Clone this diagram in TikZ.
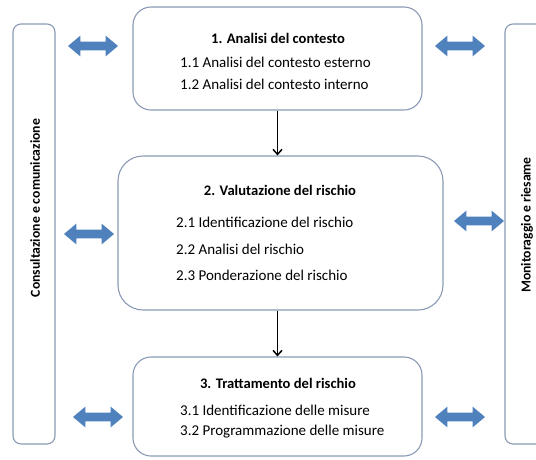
\documentclass[tikz,border=0pt]{standalone}
\usepackage{fontspec}
\setmainfont{Carlito}
\usetikzlibrary{shapes.arrows,arrows.meta}
\definecolor{bord}{HTML}{8A9AB5}
\definecolor{arr}{HTML}{4F81BD}
\begin{document}
\begin{tikzpicture}[x=1pt,y=-1pt,
  box/.style={draw=bord, line width=1.1pt, fill=white, inner sep=0pt},
  ttl/.style={font=\fontsize{14.6}{17}\selectfont\bfseries, inner sep=0pt},
  itm/.style={font=\fontsize{15}{17}\selectfont, inner sep=0pt, anchor=west},
  side/.style={font=\fontsize{13.7}{16}\selectfont\bfseries, inner sep=0pt, rotate=90},
  darr/.style={double arrow, fill=arr, draw=none,
    minimum height=50pt, double arrow head extend=6pt, double arrow tip angle=80, inner sep=0pt},
  flow/.style={-{Straight Barb[length=5pt,width=9pt,line width=1.5pt]}, line width=1.6pt, black}]
\clip (0,0) rectangle (536,459);
\fill[white] (0,0) rectangle (536,459);
% side boxes
\node[box, minimum width=42pt, minimum height=420pt, rounded corners=8pt] (lb) at (34,234) {};
\node[box, minimum width=55pt, minimum height=420pt, rounded corners=8pt] (rb) at (532.5,234) {};
\node[side] (lt) at (35,208) {Consultazione e comunicazione};
\node[side] (rt) at (527,225) {Monitoraggio e riesame};
% main boxes
\node[box, minimum width=289pt, minimum height=103pt, rounded corners=18pt] (b1) at (277.5,58.5) {};
\node[box, minimum width=325pt, minimum height=154pt, rounded corners=25pt] (b2) at (280.5,233) {};
\node[box, minimum width=289pt, minimum height=99pt, rounded corners=18pt] (b3) at (277.5,406.5) {};
% texts
\node[ttl] (t1) at (278,38) {1. Analisi del contesto};
\node[itm] (i11) at (180,62) {1.1 Analisi del contesto esterno};
\node[itm] (i12) at (180,84) {1.2 Analisi del contesto interno};
\node[ttl] (t2) at (280,190) {2. Valutazione del rischio};
\node[itm] (i21) at (176,222) {2.1 Identificazione del rischio};
\node[itm] (i22) at (176,249) {2.2 Analisi del rischio};
\node[itm] (i23) at (176,275) {2.3 Ponderazione del rischio};
\node[ttl] (t3) at (278,383) {3. Trattamento del rischio};
\node[itm] (i31) at (180,410) {3.1 Identificazione delle misure};
\node[itm] (i32) at (180,432) {3.2 Programmazione delle misure};
% flow arrows
\draw[flow] (b1.south) -- (b1.south |- b2.north);
\draw[flow] (b1.south |- b2.south) -- (b3.north);
% double arrows
\node[darr] (a1l) at (93,46) {\rule{0pt}{8.5pt}};
\node[darr] (a1r) at (460,46) {\rule{0pt}{8.5pt}};
\node[darr] (a2l) at (89,234) {\rule{0pt}{8.5pt}};
\node[darr] (a2r) at (479,221) {\rule{0pt}{8.5pt}};
\node[darr] (a3l) at (98,417) {\rule{0pt}{8.5pt}};
\node[darr] (a3r) at (460,417) {\rule{0pt}{8.5pt}};
\end{tikzpicture}
\end{document}
